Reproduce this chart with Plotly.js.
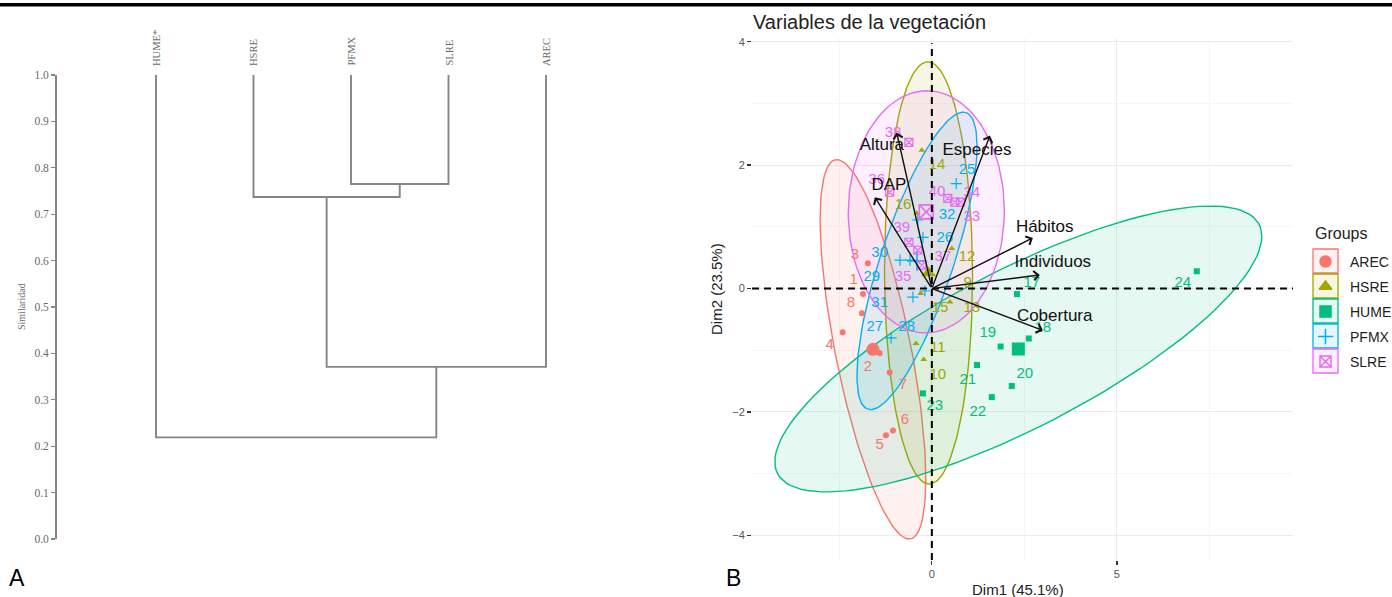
<!DOCTYPE html>
<html><head><meta charset="utf-8">
<script src="https://cdn.plot.ly/plotly-3.0.1.min.js"></script>
<style>html,body{margin:0;padding:0;background:#fff;}#chart{width:1392px;height:597px;}</style>
</head><body><div id="chart"></div>
<script>
// ---------------- Panel A : dendrogram ----------------
const leafLabels = ['HUME*', 'HSRE', 'PFMX', 'SLRE', 'AREC'];
// hclust style merge table (negative = leaf index, positive = earlier merge row)
const mergeA = [-3, -2, 2, -1];
const mergeB = [-4, 1, -5, 3];
const mergeHeight = [0.765, 0.737, 0.371, 0.219];
const leafHeight = 1.0;
const simTickVals = [0, 0.1, 0.2, 0.3, 0.4, 0.5, 0.6, 0.7, 0.8, 0.9, 1.0];

// ---------------- Panel B : PCA biplot ----------------
const groups = ['AREC', 'HSRE', 'HUME', 'PFMX', 'SLRE'];
const groupColors = ['#F8766D', '#A3A500', '#00BF7D', '#00B0F6', '#E76BF3'];
const groupSymbols = ['circle', 'triangle-up', 'square', 'cross-thin-open', 'square-x-open'];

const arecIds = ['1', '2', '3', '4', '5', '6', '7', '8'];
const arecX = [-1.86, -1.41, -1.73, -2.41, -1.24, -1.05, -1.14, -1.89];
const arecY = [-0.09, -1.05, 0.41, -0.71, -2.38, -2.30, -1.36, -0.40];
const arecLabX = [-2.11, -1.73, -2.08, -2.76, -1.41, -0.73, -0.78, -2.19];
const arecLabY = [0.13, -1.28, 0.54, -0.92, -2.54, -2.13, -1.57, -0.24];

const hsreIds = ['9', '10', '11', '12', '13', '14', '15', '16'];
const hsreX = [-0.11, -0.22, -0.43, 0.54, 0.49, -0.27, -0.30, -0.41];
const hsreY = [0.25, -1.15, -0.89, 0.65, -0.22, 2.24, -0.08, 1.22];
const hsreLabX = [0.97, 0.16, 0.16, 0.95, 1.08, 0.14, 0.22, -0.78];
const hsreLabY = [0.09, -1.41, -0.97, 0.51, -0.32, 2.00, -0.32, 1.35];

const humeIds = ['17', '18', '19', '20', '21', '22', '23', '24'];
const humeX = [2.30, 2.62, 1.86, 2.16, 1.22, 1.62, -0.24, 7.16];
const humeY = [-0.09, -0.81, -0.94, -1.58, -1.24, -1.76, -1.70, 0.28];
const humeLabX = [2.70, 3.00, 1.51, 2.51, 0.97, 1.24, 0.08, 6.78];
const humeLabY = [0.09, -0.64, -0.72, -1.39, -1.49, -2.00, -1.91, 0.09];

const pfmxIds = ['25', '26', '27', '28', '29', '30', '31', '32'];
const pfmxX = [0.66, -0.24, -1.10, -0.19, -0.59, -0.86, -0.51, -0.38];
const pfmxY = [1.70, 0.83, -0.80, -0.04, 0.46, 0.46, -0.14, 1.11];
const pfmxLabX = [0.95, 0.35, -1.54, -0.68, -1.62, -1.41, -1.41, 0.41];
const pfmxLabY = [1.92, 0.82, -0.63, -0.63, 0.18, 0.57, -0.24, 1.19];

const slreIds = ['33', '34', '35', '36', '37', '38', '39', '40'];
const slreX = [0.62, 0.78, -0.27, -1.14, -0.38, -0.62, -0.62, 0.43];
const slreY = [1.40, 1.40, 0.38, 1.56, 0.62, 2.37, 0.75, 1.46];
const slreLabX = [1.08, 1.08, -0.78, -1.49, 0.30, -1.05, -0.81, 0.14];
const slreLabY = [1.16, 1.55, 0.18, 1.76, 0.51, 2.52, 0.98, 1.56];

const varNames = ['Altura', 'Especies', 'DAP', 'Hábitos', 'Individuos', 'Cobertura'];
const varX = [-0.95, 1.57, -1.54, 2.73, 2.92, 3.00];
const varY = [2.53, 2.48, 1.48, 0.82, 0.22, -0.68];
const varLabX = [-1.35, 1.22, -1.16, 3.05, 3.27, 3.32];
const varLabY = [2.32, 2.24, 1.67, 0.99, 0.41, -0.45];

const xTickVals = [0, 5];
const yTickVals = [-4, -2, 0, 2, 4];

// ---------------- helpers ----------------
const W = 1392, H = 597;
const px = v => v / W;
const py = v => 1 - v / H;
const SANS = 'Liberation Sans, Arial, sans-serif';
const SERIF = 'Liberation Serif, Times New Roman, serif';

function hexA(hex, a) {
  const n = parseInt(hex.slice(1), 16);
  return `rgba(${(n >> 16) & 255},${(n >> 8) & 255},${n & 255},${a})`;
}
function mean(a) { return a.reduce((s, v) => s + v, 0) / a.length; }
function ellipse(xs, ys, level) {
  const n = xs.length, mx = mean(xs), my = mean(ys);
  let sxx = 0, syy = 0, sxy = 0;
  for (let i = 0; i < n; i++) {
    sxx += (xs[i] - mx) ** 2; syy += (ys[i] - my) ** 2; sxy += (xs[i] - mx) * (ys[i] - my);
  }
  sxx /= (n - 1); syy /= (n - 1); sxy /= (n - 1);
  const dfd = n - 1;
  const F = dfd / 2 * (Math.pow(1 - level, -2 / dfd) - 1);
  const r = Math.sqrt(2 * F);
  const a = Math.sqrt(sxx), b = sxy / a, c = Math.sqrt(syy - b * b);
  const ex = [], ey = [];
  for (let k = 0; k <= 120; k++) {
    const t = 2 * Math.PI * k / 120, u = Math.cos(t), v = Math.sin(t);
    ex.push(mx + r * u * a); ey.push(my + r * (u * b + v * c));
  }
  return {ex, ey};
}

const traces = [];
const annotations = [];
const shapes = [];

// ---- dendrogram segments ----
const nodes = [];
const segX = [], segY = [];
function nodeOf(ref) { return ref < 0 ? {x: -ref, h: leafHeight} : nodes[ref - 1]; }
for (let i = 0; i < mergeHeight.length; i++) {
  const a = nodeOf(mergeA[i]), b = nodeOf(mergeB[i]), h = mergeHeight[i];
  segX.push(a.x, a.x, b.x, b.x, null);
  segY.push(a.h, h, h, b.h, null);
  nodes.push({x: (a.x + b.x) / 2, h: h});
}
traces.push({type: 'scatter', mode: 'lines', x: segX, y: segY, xaxis: 'x', yaxis: 'y',
  line: {color: '#858585', width: 1.9}, hoverinfo: 'skip', showlegend: false, cliponaxis: false});
leafLabels.forEach((lab, i) => {
  annotations.push({text: lab, x: i + 1, xref: 'x', y: py(68), yref: 'paper', textangle: -90,
    xanchor: 'center', yanchor: 'bottom', showarrow: false,
    font: {family: SERIF, size: 10.5, color: '#6a6a6a'}});
});
annotations.push({text: 'Similaridad', x: px(21), y: py(307), xref: 'paper', yref: 'paper',
  xanchor: 'center', yanchor: 'middle',
  textangle: -90, showarrow: false, font: {family: SERIF, size: 10, color: '#6a6a6a'}});

// ---- Panel B ----
const gData = [
  [arecIds, arecX, arecY, arecLabX, arecLabY],
  [hsreIds, hsreX, hsreY, hsreLabX, hsreLabY],
  [humeIds, humeX, humeY, humeLabX, humeLabY],
  [pfmxIds, pfmxX, pfmxY, pfmxLabX, pfmxLabY],
  [slreIds, slreX, slreY, slreLabX, slreLabY]
];
gData.forEach((g, gi) => {
  const e = ellipse(g[1], g[2], 0.95);
  traces.push({type: 'scatter', mode: 'lines', x: e.ex, y: e.ey, xaxis: 'x2', yaxis: 'y2',
    fill: 'toself', fillcolor: hexA(groupColors[gi], 0.1),
    line: {color: groupColors[gi], width: 1.4}, hoverinfo: 'skip', showlegend: false});
});
gData.forEach((g, gi) => {
  const open = groupSymbols[gi].indexOf('open') >= 0;
  traces.push({type: 'scatter', mode: 'markers', x: g[1], y: g[2], xaxis: 'x2', yaxis: 'y2',
    marker: {symbol: groupSymbols[gi], size: open ? 8 : 6, color: groupColors[gi],
      line: {color: groupColors[gi], width: open ? 1.2 : 0}}, showlegend: false, hoverinfo: 'skip'});
  traces.push({type: 'scatter', mode: 'markers', x: [mean(g[1])], y: [mean(g[2])], xaxis: 'x2', yaxis: 'y2',
    marker: {symbol: groupSymbols[gi], size: open ? 14 : 13, color: groupColors[gi],
      line: {color: groupColors[gi], width: open ? 1.6 : 0}}, showlegend: false, hoverinfo: 'skip'});
  traces.push({type: 'scatter', mode: 'text', x: g[3], y: g[4], text: g[0], xaxis: 'x2', yaxis: 'y2',
    textposition: 'middle center', textfont: {family: SANS, size: 15, color: groupColors[gi]},
    showlegend: false, hoverinfo: 'skip', cliponaxis: false});
});
// dashed zero lines
shapes.push({type: 'line', xref: 'x2', yref: 'y2 domain', x0: 0, x1: 0, y0: 0, y1: 0.99,
  line: {color: '#000', width: 2, dash: '7px,5px'}, layer: 'above'});
shapes.push({type: 'line', xref: 'x2 domain', yref: 'y2', x0: 0, x1: 1, y0: 0, y1: 0,
  line: {color: '#000', width: 2, dash: '7px,5px'}, layer: 'above'});
// variable arrows
varNames.forEach((v, i) => {
  annotations.push({x: varX[i], y: varY[i], xref: 'x2', yref: 'y2', ax: 0, ay: 0, axref: 'x2', ayref: 'y2',
    text: '', showarrow: true, arrowhead: 4, arrowsize: 1.3, arrowwidth: 1.4, arrowcolor: '#111'});
});
traces.push({type: 'scatter', mode: 'text', x: varLabX, y: varLabY, text: varNames, xaxis: 'x2', yaxis: 'y2',
  textposition: 'middle center', textfont: {family: SANS, size: 17, color: '#111'},
  showlegend: false, hoverinfo: 'skip', cliponaxis: false});

// titles / panel letters
annotations.push({text: 'Variables de la vegetación', x: px(751), y: py(22), xref: 'paper', yref: 'paper',
  xanchor: 'left', yanchor: 'middle', showarrow: false, font: {family: SANS, size: 20, color: '#222'}});
annotations.push({text: 'Dim2 (23.5%)', x: px(716), y: py(289), xref: 'paper', yref: 'paper', textangle: -90,
  xanchor: 'center', yanchor: 'middle', showarrow: false, font: {family: SANS, size: 15, color: '#222'}});
annotations.push({text: 'Dim1 (45.1%)', x: px(1018), y: py(589), xref: 'paper', yref: 'paper',
  xanchor: 'center', yanchor: 'middle', showarrow: false, font: {family: SANS, size: 15, color: '#222'}});
annotations.push({text: 'A', x: px(17), y: py(578), xref: 'paper', yref: 'paper', xanchor: 'center', yanchor: 'middle',
  showarrow: false, font: {family: SANS, size: 23, color: '#000'}});
annotations.push({text: 'B', x: px(733), y: py(578), xref: 'paper', yref: 'paper', xanchor: 'center', yanchor: 'middle',
  showarrow: false, font: {family: SANS, size: 23, color: '#000'}});
// top black rule
shapes.push({type: 'rect', xref: 'paper', yref: 'paper', x0: 0, x1: 1, y0: py(6.5), y1: py(3),
  fillcolor: '#000', line: {width: 0}});

// ---- legend (custom, ggplot style keys) ----
annotations.push({text: 'Groups', x: 1313, y: 234, xref: 'x3', yref: 'y3', xanchor: 'left', yanchor: 'middle',
  showarrow: false, font: {family: SANS, size: 16, color: '#222'}});
groups.forEach((g, i) => {
  const top = 249 + 25 * i;
  shapes.push({type: 'rect', xref: 'x3', yref: 'y3', x0: 1313, x1: 1338, y0: top, y1: top + 24,
    fillcolor: hexA(groupColors[i], 0.1), line: {color: groupColors[i], width: 1.3}});
  annotations.push({text: g, x: 1348, y: top + 12.5, xref: 'x3', yref: 'y3', xanchor: 'left', yanchor: 'middle',
    showarrow: false, font: {family: SANS, size: 14, color: '#222'}});
});
traces.push({type: 'scatter', mode: 'markers', xaxis: 'x3', yaxis: 'y3',
  x: groups.map(() => 1325.5), y: groups.map((g, i) => 249 + 25 * i + 12.5),
  marker: {symbol: groupSymbols, size: 11, color: groupColors, line: {color: groupColors, width: 1.5}},
  showlegend: false, hoverinfo: 'skip'});

const layout = {
  width: W, height: H, margin: {l: 0, r: 0, t: 0, b: 0},
  paper_bgcolor: '#fff', plot_bgcolor: 'rgba(0,0,0,0)', showlegend: false,
  xaxis: {domain: [px(57), px(600)], range: [1 - 99 / 97.5, 1 + 444 / 97.5], visible: false, fixedrange: true},
  yaxis: {domain: [py(539), py(75)], range: [0, 1], tickvals: simTickVals, tickformat: '.1f',
    showline: true, linecolor: '#858585', linewidth: 1.9, ticks: 'outside', ticklen: 4, tickcolor: '#858585',
    tickwidth: 1.3, showgrid: false, zeroline: false, tickfont: {family: SERIF, size: 11.5, color: '#6a6a6a'}},
  xaxis2: {domain: [px(752), px(1293)], range: [-4.86, 9.76], tickvals: xTickVals, ticks: 'outside', ticklen: 4,
    tickcolor: '#333', tickwidth: 1.3, showgrid: true, gridcolor: '#ebebeb', gridwidth: 1, zeroline: false,
    minor: {dtick: 2.5, tick0: 0, showgrid: true, gridcolor: '#f4f4f4', gridwidth: 0.8},
    tickfont: {family: SANS, size: 11, color: '#555'}, anchor: 'y2'},
  yaxis2: {domain: [py(560), py(38)], range: [-4.40, 4.06], tickvals: yTickVals, ticks: 'outside', ticklen: 4,
    tickcolor: '#333', tickwidth: 1.3, showgrid: true, gridcolor: '#ebebeb', gridwidth: 1, zeroline: false,
    minor: {dtick: 1, tick0: 0, showgrid: true, gridcolor: '#f4f4f4', gridwidth: 0.8},
    tickfont: {family: SANS, size: 11, color: '#555'}, anchor: 'x2'},
  xaxis3: {domain: [px(1300), 1], range: [1300, 1392], visible: false, anchor: 'y3'},
  yaxis3: {domain: [py(380), py(220)], range: [380, 220], visible: false, anchor: 'x3'},
  annotations: annotations, shapes: shapes
};
Plotly.newPlot('chart', traces, layout, {staticPlot: true});
</script></body></html>
